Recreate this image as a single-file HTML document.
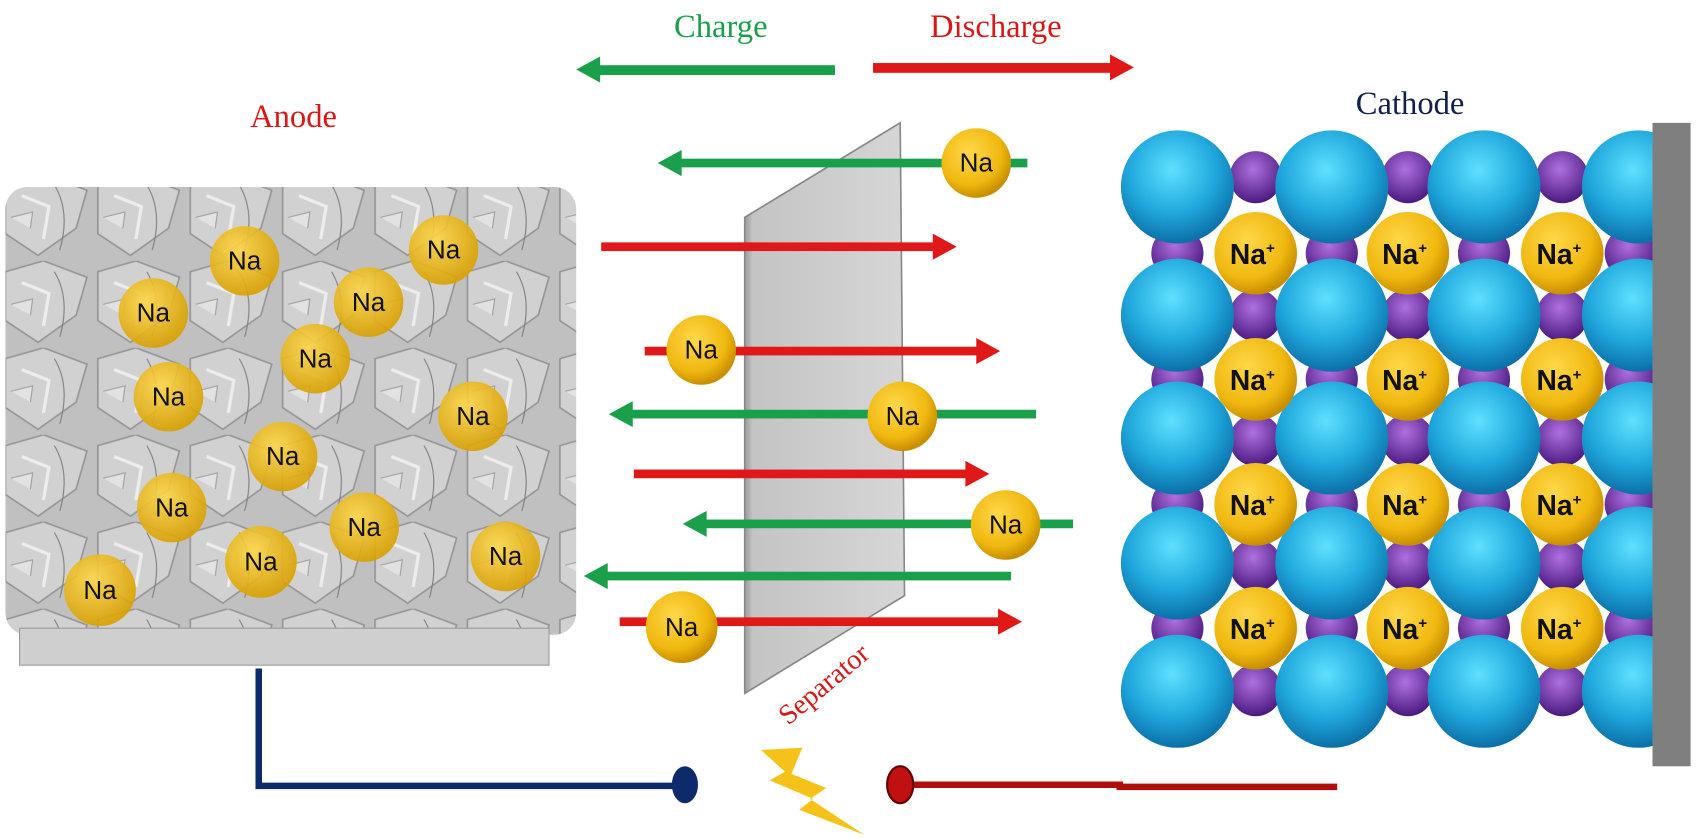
<!DOCTYPE html>
<html><head><meta charset="utf-8"><style>html,body{margin:0;padding:0;background:#fff}svg{display:block}</style></head>
<body>
<svg width="1696" height="838" viewBox="0 0 1560 771" preserveAspectRatio="none" xmlns="http://www.w3.org/2000/svg">
<defs>
<radialGradient id="na" cx="40%" cy="35%" r="65%"><stop offset="0" stop-color="#ffd84a"/><stop offset="0.7" stop-color="#f0b810"/><stop offset="1" stop-color="#c98e00"/></radialGradient>
<radialGradient id="na2" cx="40%" cy="35%" r="65%"><stop offset="0" stop-color="#ffd84a" stop-opacity="0.9"/><stop offset="1" stop-color="#d9a000" stop-opacity="0.9"/></radialGradient>
<radialGradient id="bl" cx="45%" cy="35%" r="65%"><stop offset="0" stop-color="#5fe0ff"/><stop offset="0.6" stop-color="#1fa7dc"/><stop offset="1" stop-color="#0c6fa8"/></radialGradient>
<radialGradient id="pu" cx="45%" cy="35%" r="65%"><stop offset="0" stop-color="#b070e0"/><stop offset="1" stop-color="#4a1a80"/></radialGradient>
<linearGradient id="sep" x1="0" x2="1"><stop offset="0" stop-color="#9a9a9a"/><stop offset="0.05" stop-color="#c4c4c4"/><stop offset="1" stop-color="#d6d6d6"/></linearGradient>
<pattern id="tex" width="85" height="80" patternUnits="userSpaceOnUse">
<rect width="85" height="80" fill="#bdbdbd"/>
<path d="M5 10 L40 0 L80 15 L70 50 L35 75 L5 55 Z" fill="#cfcfcf" stroke="#8f8f8f" stroke-width="1.5"/>
<path d="M20 20 L45 30 L40 60" fill="none" stroke="#ececec" stroke-width="3"/>
<path d="M50 10 Q65 35 55 70" fill="none" stroke="#777" stroke-width="1"/>
<path d="M10 40 L30 35 L28 50" fill="#e0e0e0" stroke="#999"/>
</pattern>
</defs>

<g font-family="Liberation Serif, serif" font-size="30">
<text x="663" y="34" text-anchor="middle" fill="#1aa04a">Charge</text>
<text x="916" y="34" text-anchor="middle" fill="#d81818">Discharge</text>
<text x="270" y="117" text-anchor="middle" fill="#d81818">Anode</text>
<text x="1297" y="105" text-anchor="middle" fill="#12204a">Cathode</text>
</g>
<rect x="548" y="60" width="220" height="9" fill="#1aa04a"/><path d="M530 64 L552 52 L552 76 Z" fill="#1aa04a"/>
<rect x="803" y="58" width="220" height="9" fill="#e01818"/><path d="M1043 62 L1021 50 L1021 74 Z" fill="#e01818"/>

<rect x="5" y="172" width="525" height="412" rx="20" fill="url(#tex)" opacity="0.95"/>
<rect x="18" y="578" width="487" height="34" fill="#cfcfcf" stroke="#9a9a9a"/>
<g font-family="Liberation Sans, sans-serif" font-size="24" text-anchor="middle" fill="#111">
<g fill="url(#na2)">
<circle cx="225" cy="240" r="32"/><circle cx="408" cy="230" r="32"/><circle cx="141" cy="288" r="32"/><circle cx="339" cy="278" r="32"/><circle cx="290" cy="330" r="32"/><circle cx="155" cy="365" r="32"/><circle cx="435" cy="383" r="32"/><circle cx="260" cy="420" r="32"/><circle cx="158" cy="467" r="32"/><circle cx="335" cy="485" r="32"/><circle cx="240" cy="517" r="33"/><circle cx="465" cy="512" r="32"/><circle cx="92" cy="543" r="33"/>
</g>
<text x="225" y="248">Na</text><text x="408" y="238">Na</text><text x="141" y="296">Na</text><text x="339" y="286">Na</text><text x="290" y="338">Na</text><text x="155" y="373">Na</text><text x="435" y="391">Na</text><text x="260" y="428">Na</text><text x="158" y="475">Na</text><text x="335" y="493">Na</text><text x="240" y="525">Na</text><text x="465" y="520">Na</text><text x="92" y="551">Na</text>
</g>

<path d="M685 200 L828 113 L832 548 L685 638 Z" fill="url(#sep)" stroke="#888" stroke-width="1.5"/>
<text x="0" y="0" font-family="Liberation Serif, serif" font-size="26" fill="#d81818" transform="translate(725 668) rotate(-40)">Separator</text>

<g>
<rect x="622" y="146" width="323" height="8" fill="#1aa04a"/><path d="M605 150 L627 138 L627 162 Z" fill="#1aa04a"/>
<rect x="553" y="223" width="310" height="8" fill="#e01818"/><path d="M880 227 L858 215 L858 239 Z" fill="#e01818"/>
<rect x="593" y="319" width="310" height="8" fill="#e01818"/><path d="M920 323 L898 311 L898 335 Z" fill="#e01818"/>
<rect x="577" y="377" width="376" height="8" fill="#1aa04a"/><path d="M560 381 L582 369 L582 393 Z" fill="#1aa04a"/>
<rect x="583" y="432" width="310" height="8" fill="#e01818"/><path d="M910 436 L888 424 L888 448 Z" fill="#e01818"/>
<rect x="645" y="478" width="342" height="8" fill="#1aa04a"/><path d="M628 482 L650 470 L650 494 Z" fill="#1aa04a"/>
<rect x="554" y="526" width="376" height="8" fill="#1aa04a"/><path d="M537 530 L559 518 L559 542 Z" fill="#1aa04a"/>
<rect x="570" y="568" width="353" height="8" fill="#e01818"/><path d="M940 572 L918 560 L918 584 Z" fill="#e01818"/>
</g>
<g font-family="Liberation Sans, sans-serif" font-size="24" text-anchor="middle" fill="#111">
<g fill="url(#na)"><circle cx="898" cy="150" r="32"/><circle cx="645" cy="322" r="32"/><circle cx="830" cy="383" r="32"/><circle cx="925" cy="483" r="32"/><circle cx="627" cy="577" r="33"/></g>
<text x="898" y="158">Na</text><text x="645" y="330">Na</text><text x="830" y="391">Na</text><text x="925" y="491">Na</text><text x="627" y="585">Na</text>
</g>

<path d="M238 615 L238 723 L628 723" fill="none" stroke="#0d2a6b" stroke-width="6"/>
<ellipse cx="630" cy="722" rx="12" ry="17" fill="#0d2a6b"/>
<path d="M840 722 L1030 722 L1030 724 L1230 724" fill="none" stroke="#b00d0d" stroke-width="6"/>
<ellipse cx="828" cy="722" rx="12" ry="17" fill="#c01010" stroke="#600" stroke-width="2"/>
<path d="M700 690 L738 688 L728 712 L760 725 L745 735 L795 768 L735 745 L748 735 L708 718 L722 710 Z" fill="#f6c21a"/>

<g>
<g fill="url(#pu)">
<circle cx="1155" cy="163" r="24"/><circle cx="1295" cy="163" r="24"/><circle cx="1437" cy="163" r="24"/>
<circle cx="1155" cy="290" r="24"/><circle cx="1295" cy="290" r="24"/><circle cx="1437" cy="290" r="24"/>
<circle cx="1155" cy="405" r="24"/><circle cx="1295" cy="405" r="24"/><circle cx="1437" cy="405" r="24"/>
<circle cx="1155" cy="520" r="24"/><circle cx="1295" cy="520" r="24"/><circle cx="1437" cy="520" r="24"/>
<circle cx="1155" cy="635" r="24"/><circle cx="1295" cy="635" r="24"/><circle cx="1437" cy="635" r="24"/>
<circle cx="1083" cy="233" r="24"/><circle cx="1225" cy="233" r="24"/><circle cx="1365" cy="233" r="24"/><circle cx="1500" cy="233" r="24"/>
<circle cx="1083" cy="349" r="24"/><circle cx="1225" cy="349" r="24"/><circle cx="1365" cy="349" r="24"/><circle cx="1500" cy="349" r="24"/>
<circle cx="1083" cy="464" r="24"/><circle cx="1225" cy="464" r="24"/><circle cx="1365" cy="464" r="24"/><circle cx="1500" cy="464" r="24"/>
<circle cx="1083" cy="578" r="24"/><circle cx="1225" cy="578" r="24"/><circle cx="1365" cy="578" r="24"/><circle cx="1500" cy="578" r="24"/>
</g>
<g fill="url(#bl)">
<circle cx="1083" cy="172" r="52"/><circle cx="1225" cy="172" r="52"/><circle cx="1365" cy="172" r="52"/><circle cx="1507" cy="172" r="52"/>
<circle cx="1083" cy="290" r="52"/><circle cx="1225" cy="290" r="52"/><circle cx="1365" cy="290" r="52"/><circle cx="1507" cy="290" r="52"/>
<circle cx="1083" cy="403" r="52"/><circle cx="1225" cy="403" r="52"/><circle cx="1365" cy="403" r="52"/><circle cx="1507" cy="403" r="52"/>
<circle cx="1083" cy="518" r="52"/><circle cx="1225" cy="518" r="52"/><circle cx="1365" cy="518" r="52"/><circle cx="1507" cy="518" r="52"/>
<circle cx="1083" cy="636" r="52"/><circle cx="1225" cy="636" r="52"/><circle cx="1365" cy="636" r="52"/><circle cx="1507" cy="636" r="52"/>
</g>
<g fill="url(#na)">
<circle cx="1155" cy="233" r="38"/><circle cx="1295" cy="233" r="38"/><circle cx="1437" cy="233" r="38"/>
<circle cx="1155" cy="349" r="38"/><circle cx="1295" cy="349" r="38"/><circle cx="1437" cy="349" r="38"/>
<circle cx="1155" cy="464" r="38"/><circle cx="1295" cy="464" r="38"/><circle cx="1437" cy="464" r="38"/>
<circle cx="1155" cy="578" r="38"/><circle cx="1295" cy="578" r="38"/><circle cx="1437" cy="578" r="38"/>
</g>
<g font-family="Liberation Sans, sans-serif" font-weight="bold" font-size="26" text-anchor="middle" fill="#111">
<text x="1152" y="243">Na<tspan font-size="14" dy="-10">+</tspan></text><text x="1292" y="243">Na<tspan font-size="14" dy="-10">+</tspan></text><text x="1434" y="243">Na<tspan font-size="14" dy="-10">+</tspan></text>
<text x="1152" y="359">Na<tspan font-size="14" dy="-10">+</tspan></text><text x="1292" y="359">Na<tspan font-size="14" dy="-10">+</tspan></text><text x="1434" y="359">Na<tspan font-size="14" dy="-10">+</tspan></text>
<text x="1152" y="474">Na<tspan font-size="14" dy="-10">+</tspan></text><text x="1292" y="474">Na<tspan font-size="14" dy="-10">+</tspan></text><text x="1434" y="474">Na<tspan font-size="14" dy="-10">+</tspan></text>
<text x="1152" y="588">Na<tspan font-size="14" dy="-10">+</tspan></text><text x="1292" y="588">Na<tspan font-size="14" dy="-10">+</tspan></text><text x="1434" y="588">Na<tspan font-size="14" dy="-10">+</tspan></text>
</g>
<rect x="1520" y="113" width="40" height="600" fill="#fff"/>
<rect x="1520" y="113" width="35" height="592" fill="#7f7f7f"/>
</g>
</svg>
</body></html>
